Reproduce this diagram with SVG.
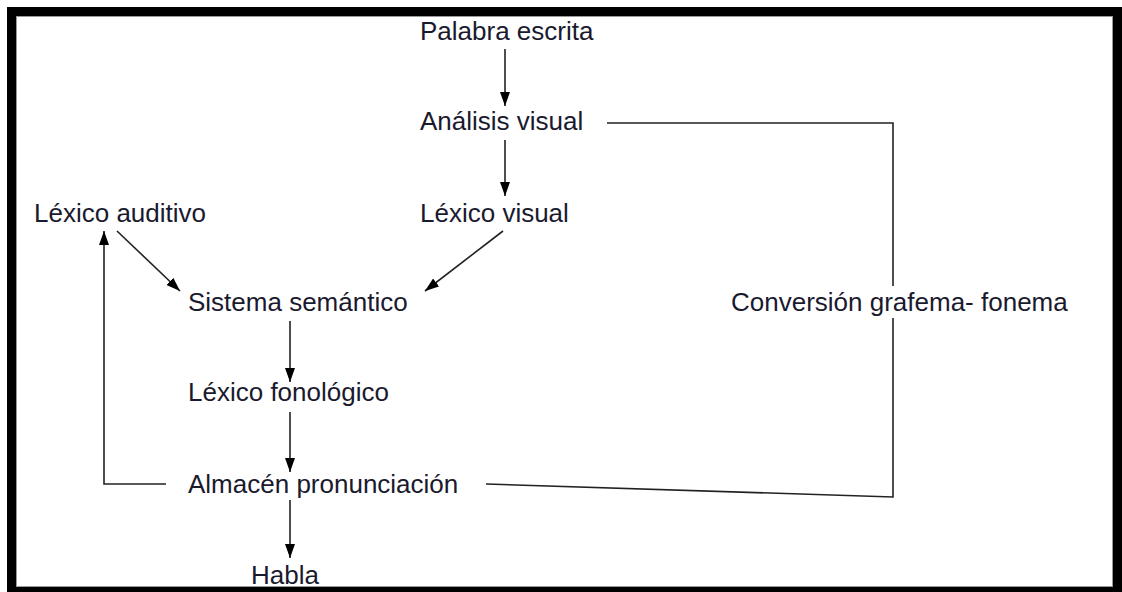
<svg xmlns="http://www.w3.org/2000/svg" width="1122" height="592" viewBox="0 0 1122 592">
<defs>
<style>
.t{font-family:"Liberation Sans",Arial,sans-serif;font-size:26px;fill:#1a1a2e}
.c{fill:none;stroke:#222;stroke-width:1.6}
</style>
<marker id="ah" viewBox="0 0 10 10" refX="10" refY="5" markerWidth="10" markerHeight="10" markerUnits="userSpaceOnUse" orient="auto">
<path d="M0,0 L10,5 L0,10 z" fill="#000"/>
</marker>
<marker id="ahl" viewBox="0 0 14 10" refX="14" refY="5" markerWidth="14" markerHeight="10" markerUnits="userSpaceOnUse" orient="auto">
<path d="M0,0 L14,5 L0,10 z" fill="#000"/>
</marker>
</defs>
<rect x="0" y="0" width="1122" height="592" fill="#fff"/>
<path d="M7,7 H1122 V592 H7 Z M16,16 V587 H1113 V16 Z" fill="#000" fill-rule="evenodd"/>
<rect x="16.5" y="16.5" width="1096" height="570" fill="none" stroke="#999" stroke-width="1"/>
<g id="connectors">
<line class="c" x1="505" y1="49" x2="505" y2="106" marker-end="url(#ahl)"/>
<line class="c" x1="505" y1="140" x2="505" y2="196" marker-end="url(#ahl)"/>
<line class="c" x1="117" y1="231" x2="180" y2="291" marker-end="url(#ahl)"/>
<line class="c" x1="503" y1="231" x2="425" y2="291" marker-end="url(#ahl)"/>
<line class="c" x1="290" y1="321" x2="290" y2="382" marker-end="url(#ahl)"/>
<line class="c" x1="290" y1="412" x2="290" y2="472" marker-end="url(#ahl)"/>
<line class="c" x1="290" y1="500" x2="290" y2="558" marker-end="url(#ahl)"/>
<polyline class="c" points="166,484 104,484 104,231" marker-end="url(#ahl)"/>
<polyline class="c" points="607,123 893,123 893,286"/>
<polyline class="c" points="893,318 893,497 486,484"/>
</g>
<g id="n-palabra"><text class="t" x="420" y="40">Palabra escrita</text></g>
<g id="n-analisis"><text class="t" x="420" y="130">Análisis visual</text></g>
<g id="n-lexvisual"><text class="t" x="420" y="222">Léxico visual</text></g>
<g id="n-lexauditivo"><text class="t" x="34" y="222">Léxico auditivo</text></g>
<g id="n-sistema"><text class="t" x="188" y="311">Sistema semántico</text></g>
<g id="n-conversion"><text class="t" x="731" y="311">Conversión grafema- fonema</text></g>
<g id="n-fonologico"><text class="t" x="188" y="401">Léxico fonológico</text></g>
<g id="n-almacen"><text class="t" x="188" y="493">Almacén pronunciación</text></g>
<g id="n-habla"><text class="t" x="251" y="584">Habla</text></g>
</svg>
